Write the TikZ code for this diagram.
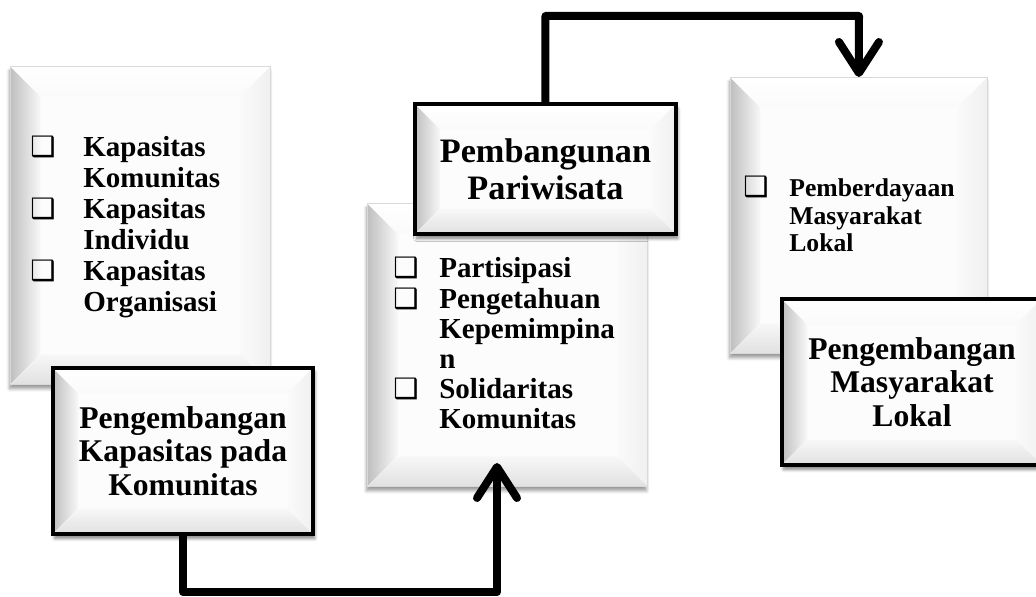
\documentclass[tikz,border=0pt]{standalone}
\usepackage{fontspec}
\setmainfont{Liberation Serif}
\newfontfamily\symfont{DejaVu Sans}
\usetikzlibrary{positioning, calc, shadows, shadows.blur, arrows.meta}

\newlength{\chkgap}
\newcommand{\chk}{{\symfont\fontsize{16pt}{16pt}\selectfont ❑}}
\newcommand{\chkitem}[1]{\makebox[\chkgap][l]{\chk}#1}
\newcommand{\chkmore}[1]{\hspace*{\chkgap}#1}
\newcommand{\listfont}[3]{\bfseries\fontsize{#1}{#2}\selectfont\lineskiplimit=-40pt\setlength{\chkgap}{#3}}

\tikzset{
  bevel/.style={path picture={
      \coordinate (bvsw) at (path picture bounding box.south west);
      \coordinate (bvne) at (path picture bounding box.north east);
      \coordinate (bvnw) at (bvsw |- bvne);
      \coordinate (bvse) at (bvne |- bvsw);
      \coordinate (bvisw) at ($(bvsw)+(#1,#1)$);
      \coordinate (bvine) at ($(bvne)+(-#1,-#1)$);
      \coordinate (bvinw) at (bvisw |- bvine);
      \coordinate (bvise) at (bvine |- bvisw);
      \fill[black!1] (bvisw) rectangle (bvine);
      \fill[left color=black!25, right color=black!3] (bvsw) -- (bvisw) -- (bvinw) -- (bvnw) -- cycle;
      \fill[top color=white, bottom color=black!2] (bvnw) -- (bvinw) -- (bvine) -- (bvne) -- cycle;
      \fill[left color=black!2, right color=black!6] (bvne) -- (bvine) -- (bvise) -- (bvse) -- cycle;
      \fill[top color=black!3, bottom color=black!12] (bvsw) -- (bvisw) -- (bvise) -- (bvse) -- cycle;
    }},
  pillow/.style={draw=black!15, line width=0.5pt, fill=white, inner sep=0pt,
    anchor=north west, bevel=0.6cm,
    blur shadow={shadow xshift=-0.5pt, shadow yshift=-2.5pt, shadow blur steps=6, shadow opacity=40}},
  titlebox/.style={draw=black, line width=2.3pt, fill=white, inner sep=0pt,
    anchor=north west, bevel=0.5cm, align=center,
    minimum width=5.2cm, minimum height=3.32cm,
    font=\bfseries\fontsize{18pt}{19pt}\selectfont,
    blur shadow={shadow xshift=1pt, shadow yshift=-2.5pt, shadow blur steps=6, shadow opacity=50}},
  listtext/.style={inner sep=0pt, anchor=base west, align=left, text width=#1},
  conn/.style={line width=0.16cm, line join=round, line cap=round,
    -{Straight Barb[length=0.62cm, width=0.8cm, round]}}
}

\begin{document}
\begin{tikzpicture}[x=0.02cm, y=-0.02cm]
  \useasboundingbox (0,0) rectangle (1036,597);

  % big boxes
  \node[pillow, minimum width=5.2cm, minimum height=6.36cm] (kapasitas) at (10,66) {};
  \node[pillow, minimum width=5.6cm, minimum height=5.66cm] (partisipasi) at (367,203) {};
  \node[pillow, minimum width=5.14cm, minimum height=5.52cm] (pemberdayaan) at (730,77) {};

  % lists
  \node[listtext=4.8cm, font={\listfont{16.5pt}{17.6pt}{1.06cm}}] (kapasitasList) at (30,157)
    {\chkitem{Kapasitas}\\ \chkmore{Komunitas}\\ \chkitem{Kapasitas}\\ \chkmore{Individu}\\
     \chkitem{Kapasitas}\\ \chkmore{Organisasi}};
  \node[listtext=4.9cm, font={\listfont{16.5pt}{17.1pt}{0.92cm}}] (partisipasiList) at (393,278)
    {\chkitem{Partisipasi}\\ \chkitem{Pengetahuan}\\ \chkmore{Kepemimpina}\\ \chkmore{n}\\
     \chkitem{Solidaritas}\\ \chkmore{Komunitas}};
  \node[listtext=4.6cm, font={\listfont{14.6pt}{15.6pt}{0.92cm}}] (pemberdayaanList) at (743,197)
    {\chkitem{Pemberdayaan}\\ \chkmore{Masyarakat}\\ \chkmore{Lokal}};

  % title boxes
  \node[titlebox] (kapasitasTitle) at (51,366) {Pengembangan\\ Kapasitas pada\\ Komunitas};
  \node[titlebox, minimum width=5.22cm, minimum height=2.6cm,
        font=\bfseries\fontsize{19.5pt}{21pt}\selectfont] (pariwisata) at (413,102) {Pembangunan\\ Pariwisata};
  \node[titlebox] (masyarakat) at (780,297) {Pengembangan\\ Masyarakat\\ Lokal};

  % connectors
  \coordinate (lowTurn) at (497,592);
  \coordinate (lowEnd) at (497,463);
  \coordinate (highTurn) at (859,16);
  \draw[conn] (kapasitasTitle.south) |- (lowTurn) -- (lowEnd);
  \draw[conn] (pariwisata.north) |- (highTurn) -- (pemberdayaan.north);
\end{tikzpicture}
\end{document}
